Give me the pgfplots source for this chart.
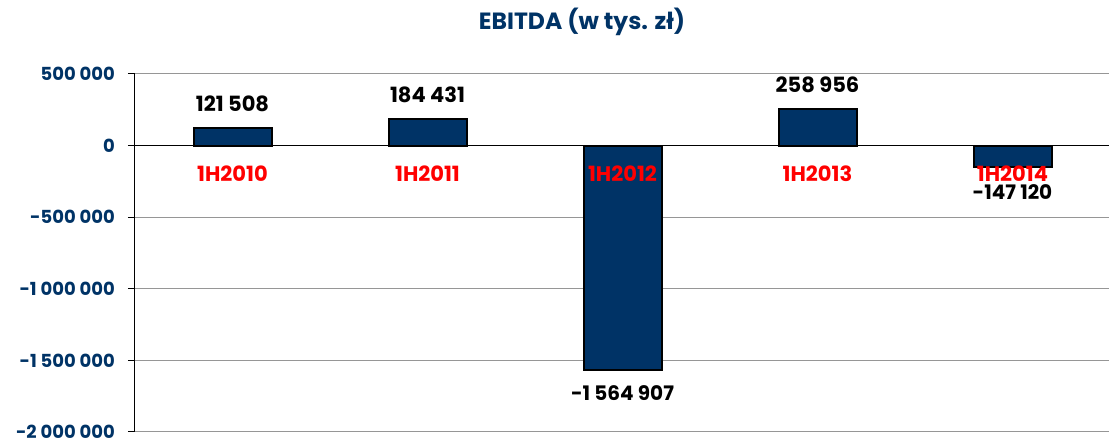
\documentclass[border=0pt]{standalone}
\usepackage{pgfplots}
\pgfplotsset{compat=1.18}
\usepackage{fontspec}
\setmainfont{Poppins}
\definecolor{navy}{RGB}{0,51,102}
\definecolor{gridgray}{RGB}{150,150,150}
\begin{document}
\begin{tikzpicture}[x=1pt,y=1pt]
\path[use as bounding box] (0,0) rectangle (1109,441);
\node[font=\bfseries\fontsize{23.5}{26}\selectfont, text=navy, anchor=base, inner sep=0pt] at (582,411) {EBITDA (w tys. zł)};
\begin{axis}[
  at={(135pt,9pt)}, anchor=south west,
  scale only axis, width=975pt, height=358pt,
  xmin=-0.5, xmax=4.5, ymin=-2000000, ymax=500000,
  scaled y ticks=false,
  axis x line*=middle, axis y line*=left,
  axis line style={-, black, line width=1pt},
  x axis line style={-, black, line width=1pt},
  xtick=\empty,
  ytick={-2000000,-1500000,-1000000,-500000,0,500000},
  yticklabels={-2 000 000,-1 500 000,-1 000 000,-500 000,0,500 000},
  y tick label style={text=navy, font=\bfseries\fontsize{18}{21}\selectfont, anchor=east, inner sep=0pt, xshift=-13pt},
  tick align=outside, major tick length=7pt,
  y tick style={black, line width=1pt},
  ymajorgrids, grid style={gridgray, line width=1pt},
  clip=false,
]
\addplot[ybar, bar width=78pt, fill=navy, draw=black, line width=2pt]
coordinates {(0,121508) (1,184431) (2,-1564907) (3,258956) (4,-147120)};
\addplot[draw=none, mark=none, nodes near coords, point meta=explicit symbolic,
  every node near coord/.append style={text=red, font=\bfseries\fontsize{21}{24}\selectfont, anchor=north, inner sep=0pt, yshift=-20pt}]
coordinates {(0,0) [1H2010] (1,0) [1H2011] (2,0) [1H2012] (3,0) [1H2013] (4,0) [1H2014]};
\addplot[draw=none, mark=none, nodes near coords, point meta=explicit symbolic,
  every node near coord/.append style={text=black, font=\bfseries\fontsize{21}{24}\selectfont, anchor=south, inner sep=0pt, yshift=16pt}]
coordinates {(0,121508) [121 508] (1,184431) [184 431] (3,258956) [258 956]};
\addplot[draw=none, mark=none, nodes near coords, point meta=explicit symbolic,
  every node near coord/.append style={text=black, font=\bfseries\fontsize{20}{24}\selectfont, anchor=north, inner sep=0pt, yshift=-16pt}]
coordinates {(2,-1564907) [-1 564 907]};
\addplot[draw=none, mark=none, nodes near coords, point meta=explicit symbolic,
  every node near coord/.append style={text=black, font=\bfseries\fontsize{20}{24}\selectfont, anchor=north, inner sep=0pt, yshift=-18pt}]
coordinates {(4,-147120) [-147 120]};
\end{axis}
\end{tikzpicture}
\end{document}
